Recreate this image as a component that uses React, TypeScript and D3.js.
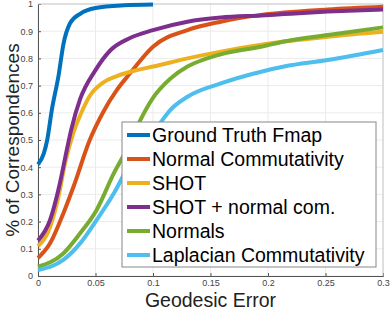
import * as d3 from "d3";
import { useRef, useEffect } from "react";

// geodesic error thresholds and cumulative fraction of correspondences
const groundTruthX = [0, 0.005, 0.008, 0.012, 0.018, 0.022, 0.028, 0.037, 0.05, 0.075, 0.1];
const groundTruthY = [0.41, 0.45, 0.5, 0.61, 0.74, 0.85, 0.93, 0.965, 0.985, 0.995, 0.998];

const normalCommX = [0, 0.0105, 0.022, 0.031, 0.045, 0.057, 0.0686, 0.08, 0.1, 0.13, 0.159, 0.194, 0.252, 0.3];
const normalCommY = [0.066, 0.12, 0.23, 0.33, 0.5, 0.605, 0.684, 0.745, 0.843, 0.904, 0.935, 0.96, 0.98, 0.99];

const shotX = [0, 0.0105, 0.0177, 0.0235, 0.031, 0.0366, 0.045, 0.057, 0.0686, 0.086, 0.1, 0.13, 0.159, 0.194, 0.214, 0.252, 0.3];
const shotY = [0.11, 0.18, 0.29, 0.414, 0.53, 0.59, 0.662, 0.712, 0.735, 0.757, 0.77, 0.8, 0.825, 0.85, 0.862, 0.88, 0.898];

const shotNormalX = [0, 0.0105, 0.019, 0.025, 0.029, 0.0366, 0.05, 0.063, 0.08, 0.1, 0.13, 0.159, 0.194, 0.214, 0.252, 0.3];
const shotNormalY = [0.13, 0.206, 0.34, 0.463, 0.54, 0.65, 0.757, 0.83, 0.875, 0.904, 0.935, 0.95, 0.958, 0.963, 0.972, 0.98];

const normalsX = [0, 0.022, 0.0366, 0.051, 0.066, 0.08, 0.089, 0.1, 0.115, 0.13, 0.145, 0.159, 0.194, 0.214, 0.252, 0.3];
const normalsY = [0.034, 0.083, 0.157, 0.243, 0.378, 0.488, 0.573, 0.655, 0.725, 0.77, 0.797, 0.815, 0.843, 0.862, 0.886, 0.914];

const laplacianX = [0, 0.022, 0.0366, 0.051, 0.066, 0.08, 0.106, 0.115, 0.13, 0.159, 0.194, 0.214, 0.252, 0.3];
const laplacianY = [0.022, 0.059, 0.12, 0.206, 0.304, 0.414, 0.561, 0.61, 0.659, 0.708, 0.751, 0.77, 0.794, 0.831];

const seriesNames = [
  "Ground Truth Fmap",
  "Normal Commutativity",
  "SHOT",
  "SHOT + normal com.",
  "Normals",
  "Laplacian Commutativity",
];
const seriesColors = ["#0072BD", "#D95319", "#EDB120", "#7E2F8E", "#77AC30", "#4DBEEE"];

const xTicks = [0, 0.05, 0.1, 0.15, 0.2, 0.25, 0.3];
const yTicks = [0, 0.1, 0.2, 0.3, 0.4, 0.5, 0.6, 0.7, 0.8, 0.9, 1];

export default function App() {
  const chartRef = useRef(null);
  const width = 390;
  const height = 310;
  const margin = { top: 4, right: 7, bottom: 34, left: 38 };

  useEffect(() => {
    const svg = d3.select(chartRef.current);
    svg.selectAll("*").remove();

    const allX = [groundTruthX, normalCommX, shotX, shotNormalX, normalsX, laplacianX];
    const allY = [groundTruthY, normalCommY, shotY, shotNormalY, normalsY, laplacianY];
    const series = seriesNames.map((name, i) => ({
      name,
      color: seriesColors[i],
      points: allX[i].map((x, j) => [x, allY[i][j]]),
    }));

    // Scales
    const x = d3.scaleLinear().domain([0, 0.3]).range([margin.left, width - margin.right]);
    const y = d3.scaleLinear().domain([0, 1]).range([height - margin.bottom, margin.top]);

    const fontFamily = "'Liberation Sans', Arial, sans-serif";

    // Grid
    const grid = svg.append("g");
    grid
      .selectAll("line.gx")
      .data(xTicks)
      .join("line")
      .attr("x1", (d) => x(d))
      .attr("x2", (d) => x(d))
      .attr("y1", y(0))
      .attr("y2", y(1))
      .attr("stroke", "#ebebeb")
      .attr("stroke-width", 1);
    grid
      .selectAll("line.gy")
      .data(yTicks)
      .join("line")
      .attr("x1", x(0))
      .attr("x2", x(0.3))
      .attr("y1", (d) => y(d))
      .attr("y2", (d) => y(d))
      .attr("stroke", "#ebebeb")
      .attr("stroke-width", 1);

    // Axes
    const xAxis = svg
      .append("g")
      .attr("transform", `translate(0,${y(0)})`)
      .call(d3.axisBottom(x).tickValues(xTicks).tickSize(-3).tickPadding(4).tickFormat((d) => `${d}`));
    const yAxis = svg
      .append("g")
      .attr("transform", `translate(${x(0)},0)`)
      .call(d3.axisLeft(y).tickValues(yTicks).tickSize(-3).tickPadding(5).tickFormat((d) => `${d}`));
    [xAxis, yAxis].forEach((ax) => {
      ax.select(".domain").attr("stroke", "#555");
      ax.selectAll(".tick line").attr("stroke", "#555");
      ax.selectAll(".tick text")
        .attr("fill", "#444")
        .attr("font-size", 9)
        .attr("font-family", fontFamily);
    });

    // Box top/right
    svg
      .append("path")
      .attr("d", `M${x(0)},${y(1)}H${x(0.3)}V${y(0)}`)
      .attr("fill", "none")
      .attr("stroke", "#c8c8c8");

    // Lines
    const line = d3
      .line()
      .x((d) => x(d[0]))
      .y((d) => y(d[1]))
      .curve(d3.curveMonotoneX);

    svg
      .append("g")
      .selectAll("path")
      .data(series)
      .join("path")
      .attr("d", (d) => line(d.points))
      .attr("fill", "none")
      .attr("stroke", (d) => d.color)
      .attr("stroke-width", 4)
      .attr("stroke-linejoin", "round");

    // Legend
    const legend = svg.append("g").attr("transform", "translate(122,122)");
    legend
      .append("rect")
      .attr("width", 254)
      .attr("height", 145)
      .attr("fill", "#fff")
      .attr("stroke", "#888")
      .attr("stroke-width", 1);
    const row = legend
      .selectAll("g")
      .data(series)
      .join("g")
      .attr("transform", (d, i) => `translate(0,${13 + i * 24})`);
    row
      .append("line")
      .attr("x1", 5)
      .attr("x2", 28)
      .attr("stroke", (d) => d.color)
      .attr("stroke-width", 4);
    row
      .append("text")
      .attr("x", 30)
      .attr("y", 7)
      .attr("font-size", 19.5)
      .attr("font-family", fontFamily)
      .attr("fill", "#000")
      .text((d) => d.name);

    // Axis labels
    svg
      .append("text")
      .attr("x", (x(0) + x(0.3)) / 2)
      .attr("y", 307)
      .attr("text-anchor", "middle")
      .attr("font-size", 19.5)
      .attr("font-family", fontFamily)
      .attr("fill", "#222")
      .text("Geodesic Error");
    svg
      .append("text")
      .attr("transform", `translate(19,${(y(0) + y(1)) / 2}) rotate(-90)`)
      .attr("text-anchor", "middle")
      .attr("font-size", 19)
      .attr("font-family", fontFamily)
      .attr("fill", "#222")
      .text("% of Correspondences");
  }, []);

  return (
    <svg
      ref={chartRef}
      width={width}
      height={height}
      style={{ position: "absolute", left: 0, top: 0, background: "#fff" }}
    ></svg>
  );
}
